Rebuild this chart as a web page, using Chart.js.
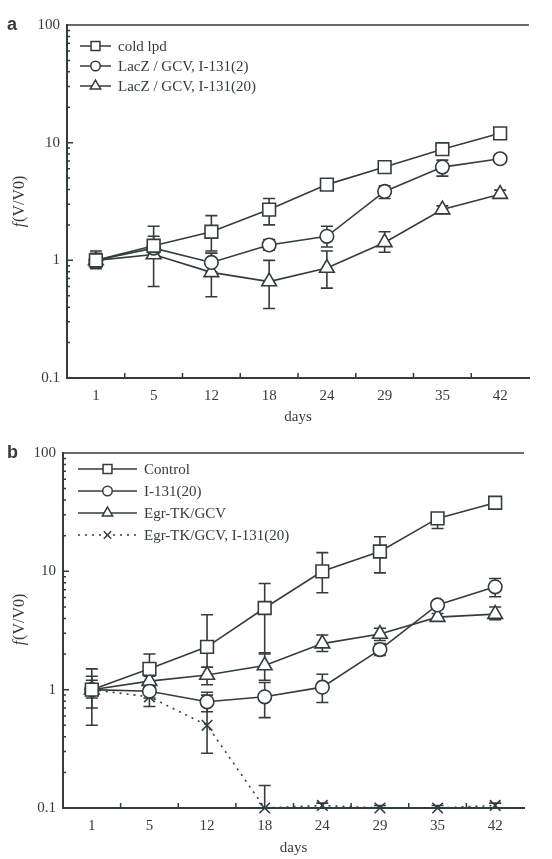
<!DOCTYPE html>
<html lang="en">
<head>
<meta charset="UTF-8">
<title>f(V/V0) vs days</title>
<script src="https://cdn.jsdelivr.net/npm/chart.js"></script>
<style>
  body { margin: 0; background: #fff; }
  .panel { position: absolute; left: 0; width: 552px; }
  #panelA { top: 0; height: 430px; }
  #panelB { top: 430px; height: 429px; }
</style>
</head>
<body>
<div class="panel" id="panelA"><canvas id="chartA" width="552" height="430"></canvas></div>
<div class="panel" id="panelB"><canvas id="chartB" width="552" height="429"></canvas></div>

<script>
// shared axis data
const days = ['1', '5', '12', '18', '24', '29', '35', '42'];
const yTicks = [0.1, 1, 10, 100];
const yTickLabels = ['0.1', '1', '10', '100'];

// panel a
const coldLpd   = [1.0, 1.33, 1.75, 2.7, 4.4, 6.2, 8.8, 12.0];
const coldLpdLo = [0.85, 1.05, 1.2, 2.0, 3.95, 5.6, 7.9, 11.0];
const coldLpdHi = [1.2, 1.95, 2.4, 3.35, 4.8, 6.7, 9.6, 12.8];

const lacZ2   = [1.0, 1.27, 0.96, 1.35, 1.6, 3.85, 6.2, 7.3];
const lacZ2Lo = [0.9, 1.15, 0.8, 1.22, 1.3, 3.35, 5.2, 6.8];
const lacZ2Hi = [1.1, 1.4, 1.15, 1.5, 1.95, 4.3, 7.1, 7.8];

const lacZ20   = [1.0, 1.12, 0.79, 0.66, 0.86, 1.42, 2.7, 3.65];
const lacZ20Lo = [0.87, 0.6, 0.49, 0.39, 0.58, 1.17, 2.5, 3.4];
const lacZ20Hi = [1.15, 1.6, 1.15, 1.0, 1.2, 1.75, 2.9, 3.95];

// panel b
const control   = [1.0, 1.5, 2.3, 4.9, 10.0, 14.7, 28, 38];
const controlLo = [0.5, 1.12, 1.25, 2.0, 6.6, 9.7, 23, 34];
const controlHi = [1.5, 2.0, 4.3, 7.9, 14.4, 19.6, 31, 41];

const i131   = [1.0, 0.97, 0.79, 0.87, 1.05, 2.18, 5.2, 7.4];
const i131Lo = [0.7, 0.85, 0.65, 0.58, 0.78, 1.95, 4.8, 6.1];
const i131Hi = [1.3, 1.1, 0.95, 1.15, 1.35, 2.45, 5.6, 8.7];

const egrTk   = [1.0, 1.18, 1.33, 1.6, 2.45, 2.95, 4.1, 4.35];
const egrTkLo = [0.85, 1.05, 1.1, 1.2, 2.1, 2.6, 3.8, 3.9];
const egrTkHi = [1.2, 1.3, 1.55, 2.05, 2.9, 3.3, 4.4, 5.0];

const egrTkI131   = [1.0, 0.87, 0.5, 0.1, 0.105, 0.1, 0.1, 0.105];
const egrTkI131Lo = [0.9, 0.72, 0.29, 0.1, 0.1, 0.1, 0.1, 0.1];
const egrTkI131Hi = [1.1, 1.0, 0.9, 0.155, 0.11, 0.105, 0.105, 0.11];

const INK = '#333c3f';
const SERIF = '"Liberation Serif", "DejaVu Serif", serif';

// vertical error bars with caps, drawn under the markers
const errorBars = {
  id: 'errorBars',
  beforeDatasetsDraw(chart) {
    const { ctx, scales: { x, y } } = chart;
    ctx.save();
    ctx.strokeStyle = INK;
    ctx.lineWidth = 1.6;
    chart.data.datasets.forEach(ds => {
      ds.errLo.forEach((lo, i) => {
        const px = x.getPixelForValue(i);
        const yl = y.getPixelForValue(lo);
        const yh = y.getPixelForValue(ds.errHi[i]);
        ctx.beginPath();
        ctx.moveTo(px, yl); ctx.lineTo(px, yh);
        ctx.moveTo(px - 6, yl); ctx.lineTo(px + 6, yl);
        ctx.moveTo(px - 6, yh); ctx.lineTo(px + 6, yh);
        ctx.stroke();
      });
    });
    ctx.restore();
  }
};

// frame, inward ticks, titles, panel letter, legend
const decor = {
  id: 'decor',
  afterDraw(chart, args, opts) {
    const { ctx, chartArea: a, scales: { x, y } } = chart;
    ctx.save();
    ctx.strokeStyle = INK;
    ctx.lineWidth = 1.5;
    ctx.beginPath();
    ctx.moveTo(a.left, a.top); ctx.lineTo(a.right, a.top);
    // minor / major y ticks
    [0.1, 1, 10].forEach(d => {
      for (let m = 1; m <= 9; m++) {
        const py = y.getPixelForValue(d * m);
        ctx.moveTo(a.left, py); ctx.lineTo(a.left + (m === 1 ? 6 : 3), py);
      }
    });
    const p100 = y.getPixelForValue(100);
    ctx.moveTo(a.left, p100); ctx.lineTo(a.left + 6, p100);
    // x ticks between categories
    for (let i = 0; i < days.length - 1; i++) {
      const px = (x.getPixelForValue(i) + x.getPixelForValue(i + 1)) / 2;
      ctx.moveTo(px, a.bottom); ctx.lineTo(px, a.bottom - 5);
    }
    ctx.stroke();

    // titles
    ctx.fillStyle = INK;
    ctx.textAlign = 'center';
    ctx.textBaseline = 'middle';
    ctx.font = '15px ' + SERIF;
    ctx.fillText('days', (a.left + a.right) / 2, opts.daysY);
    ctx.save();
    ctx.translate(20, opts.yTitleY);
    ctx.rotate(-Math.PI / 2);
    ctx.font = 'italic 16px ' + SERIF;
    const fW = ctx.measureText('f').width;
    ctx.font = '16px ' + SERIF;
    const restW = ctx.measureText('(V/V0)').width;
    ctx.textAlign = 'left';
    ctx.font = 'italic 16px ' + SERIF;
    ctx.fillText('f', -(fW + restW) / 2, 0);
    ctx.font = '16px ' + SERIF;
    ctx.fillText('(V/V0)', -(fW + restW) / 2 + fW + 1, 0);
    ctx.restore();

    // panel letter
    ctx.textAlign = 'left';
    ctx.font = 'bold 18px "Liberation Sans", Arial, sans-serif';
    ctx.fillText(opts.letter, 7, a.top);

    // legend
    const lg = opts.legend;
    ctx.font = '15px ' + SERIF;
    chart.data.datasets.forEach((ds, i) => {
      const ly = lg.y + i * lg.step;
      ctx.beginPath();
      ctx.setLineDash(ds.borderDash || []);
      ctx.moveTo(lg.x0, ly); ctx.lineTo(lg.x1, ly);
      ctx.stroke();
      ctx.setLineDash([]);
      ctx.fillStyle = '#fff';
      ctx.beginPath();
      Chart.helpers.drawPoint(ctx, {
        pointStyle: ds.pointStyle, radius: ds.pointRadius * 0.7, rotation: 0, borderWidth: 1.5
      }, (lg.x0 + lg.x1) / 2, ly);
      ctx.fillStyle = INK;
      ctx.fillText(ds.label, lg.text, ly + 1);
    });
    ctx.restore();
  }
};

function buildChart(id, p) {
  return new Chart(document.getElementById(id), {
    type: 'line',
    data: {
      labels: days,
      datasets: p.series.map(s => ({
        label: s.label,
        data: s.values,
        errLo: s.lo,
        errHi: s.hi,
        borderColor: INK,
        backgroundColor: '#fff',
        borderWidth: 1.6,
        borderDash: s.dash || [],
        pointStyle: s.marker,
        pointRadius: s.radius,
        pointBorderWidth: 1.6,
        pointBackgroundColor: '#fff',
        pointBorderColor: INK,
        tension: 0,
        fill: false,
        clip: false
      }))
    },
    options: {
      responsive: false,
      animation: false,
      layout: { padding: { left: 0, right: p.padRight, top: p.padTop, bottom: 0 } },
      plugins: {
        legend: { display: false },
        tooltip: { enabled: false },
        decor: p.decor
      },
      scales: {
        x: {
          type: 'category',
          offset: true,
          grid: { display: false, drawTicks: false },
          border: { display: true, color: INK, width: 2 },
          ticks: { color: INK, font: { family: SERIF, size: 15 }, padding: 9, maxRotation: 0, autoSkip: false },
          afterFit(s) { s.height = p.xAxisH; }
        },
        y: {
          type: 'logarithmic',
          min: 0.1,
          max: 100,
          grid: { display: false, drawTicks: false },
          border: { display: true, color: INK, width: 2 },
          ticks: { color: INK, font: { family: SERIF, size: 15 }, padding: 7, callback: (v, i) => yTickLabels[i] },
          afterBuildTicks(s) { s.ticks = yTicks.map(v => ({ value: v })); },
          afterFit(s) { s.width = p.yAxisW; }
        }
      }
    },
    plugins: [errorBars, decor]
  });
}

buildChart('chartA', {
  padTop: 25, padRight: 23, yAxisW: 67, xAxisH: 52,
  decor: {
    letter: 'a', daysY: 417, yTitleY: 202,
    legend: { x0: 80, x1: 111, text: 118, y: 46, step: 20 }
  },
  series: [
    { label: 'cold lpd', values: coldLpd, lo: coldLpdLo, hi: coldLpdHi, marker: 'rect', radius: 9 },
    { label: 'LacZ / GCV, I-131(2)', values: lacZ2, lo: lacZ2Lo, hi: lacZ2Hi, marker: 'circle', radius: 6.8 },
    { label: 'LacZ / GCV, I-131(20)', values: lacZ20, lo: lacZ20Lo, hi: lacZ20Hi, marker: 'triangle', radius: 8.5 }
  ]
});

buildChart('chartB', {
  padTop: 23, padRight: 28, yAxisW: 63, xAxisH: 51,
  decor: {
    letter: 'b', daysY: 418, yTitleY: 190,
    legend: { x0: 78, x1: 137, text: 144, y: 39, step: 22 }
  },
  series: [
    { label: 'Control', values: control, lo: controlLo, hi: controlHi, marker: 'rect', radius: 9 },
    { label: 'I-131(20)', values: i131, lo: i131Lo, hi: i131Hi, marker: 'circle', radius: 6.8 },
    { label: 'Egr-TK/GCV', values: egrTk, lo: egrTkLo, hi: egrTkHi, marker: 'triangle', radius: 8.5 },
    { label: 'Egr-TK/GCV, I-131(20)', values: egrTkI131, lo: egrTkI131Lo, hi: egrTkI131Hi, marker: 'crossRot', radius: 7.5, dash: [2, 5] }
  ]
});
</script>
</body>
</html>
